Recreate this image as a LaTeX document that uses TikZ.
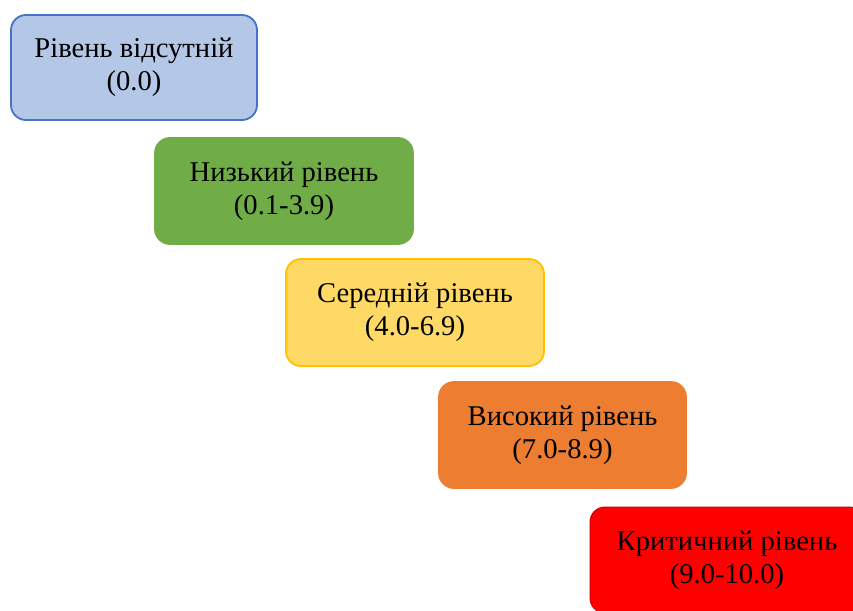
\documentclass[tikz,border=0pt]{standalone}
\usepackage{fontspec}
\setmainfont{Liberation Serif}
\definecolor{lvlblue}{HTML}{B4C7E7}
\definecolor{lvlblueb}{HTML}{4472C4}
\definecolor{lvlgreen}{HTML}{70AD47}
\definecolor{lvlyellow}{HTML}{FFD966}
\definecolor{lvlyellowb}{HTML}{FFC000}
\definecolor{lvlorange}{HTML}{ED7D31}
\definecolor{lvlred}{HTML}{FF0000}
\definecolor{lvlredb}{HTML}{D00000}
\tikzset{
  level/.style={rounded corners=15pt, line width=1.8pt, align=center,
    font=\fontsize{28.6}{33}\selectfont, inner sep=0pt}
}
\begin{document}
\begin{tikzpicture}[x=1pt,y=-1pt]
\useasboundingbox (0,0) rectangle (853,610);
\clip (0,0) rectangle (853,610);
\node[level, fill=lvlblue, draw=lvlblueb, minimum width=246pt, minimum height=105pt] (none) at (134,67.5)
  {Рівень відсутній\\(0.0)};
\node[level, fill=lvlgreen, draw=lvlgreen, minimum width=258pt, minimum height=106pt] (low) at (284,191)
  {Низький рівень\\(0.1-3.9)};
\node[level, fill=lvlyellow, draw=lvlyellowb, minimum width=258pt, minimum height=107pt] (mid) at (415,312.5)
  {Середній рівень\\(4.0-6.9)};
\node[level, fill=lvlorange, draw=lvlorange, minimum width=247pt, minimum height=106pt] (high) at (562.5,435)
  {Високий рівень\\(7.0-8.9)};
\node[level, fill=lvlred, draw=lvlredb, line width=1pt, minimum width=274pt, minimum height=106pt] (crit) at (727,560)
  {Критичний рівень\\(9.0-10.0)};
\end{tikzpicture}
\end{document}
